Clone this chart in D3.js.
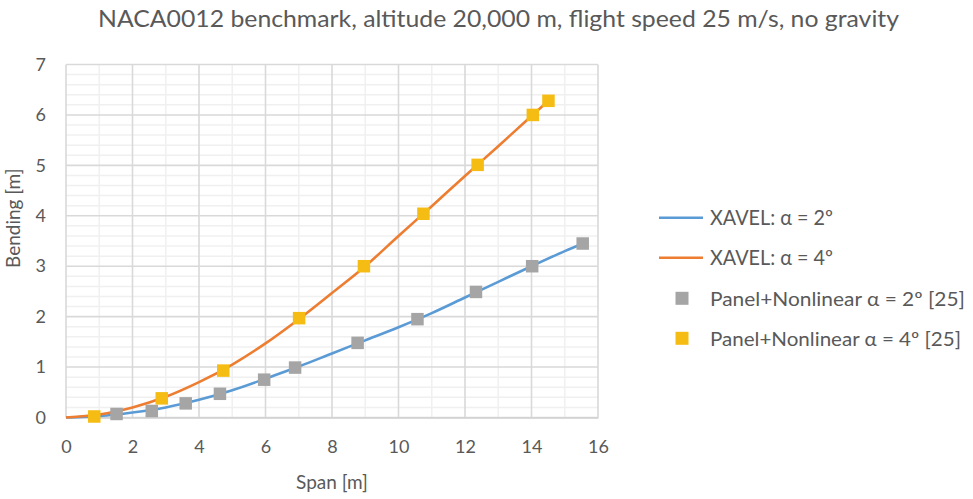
<!DOCTYPE html>
<html>
<head>
<meta charset="utf-8">
<script src="https://cdn.jsdelivr.net/npm/d3@7"></script>
<style>
  html, body { margin: 0; padding: 0; background: #ffffff; }
  svg { display: block; }
  text { font-family: Lato, "Open Sans", sans-serif; fill: #595959; }
</style>
</head>
<body>
<svg id="chart" width="973" height="499"></svg>
<script>
// XAVEL continuous bending curves (span [m] -> bending [m])
const xavelSpan2 = [0, 1, 2, 3, 4, 5, 6, 7, 8, 9, 10, 11, 12, 13, 14, 15, 15.55];
const xavelBend2 = [0, 0.03, 0.1, 0.2, 0.35, 0.54, 0.77, 1.01, 1.27, 1.53, 1.79, 2.07, 2.38, 2.69, 3.0, 3.3, 3.45];
const xavelSpan4 = [0, 1, 2, 3, 4, 5, 6, 7, 8, 9, 10, 11, 12, 13, 14, 14.5];
const xavelBend4 = [0, 0.06, 0.2, 0.41, 0.7, 1.05, 1.47, 1.95, 2.47, 3.0, 3.6, 4.19, 4.79, 5.38, 5.98, 6.27];

// Panel+Nonlinear reference points [25]
const panelSpan2 = [1.52, 2.58, 3.6, 4.63, 5.96, 6.89, 8.77, 10.57, 12.33, 14.02, 15.54];
const panelBend2 = [0.07, 0.13, 0.28, 0.47, 0.75, 0.99, 1.48, 1.95, 2.49, 3.0, 3.45];
const panelSpan4 = [0.85, 2.88, 4.73, 7.01, 8.96, 10.75, 12.38, 14.04, 14.51];
const panelBend4 = [0.02, 0.38, 0.93, 1.97, 3.0, 4.04, 5.01, 6.0, 6.28];

const spanTicks = [0, 2, 4, 6, 8, 10, 12, 14, 16];
const bendTicks = [0, 1, 2, 3, 4, 5, 6, 7];

const titleText = "NACA0012 benchmark, altitude 20,000 m, flight speed 25 m/s, no gravity";
const xTitle = "Span [m]";
const yTitle = "Bending [m]";
const legendLabels = [
  "XAVEL: \u03B1 = 2\u00BA",
  "XAVEL: \u03B1 = 4\u00BA",
  "Panel+Nonlinear  \u03B1 = 2\u00BA [25]",
  "Panel+Nonlinear \u03B1 = 4\u00BA [25]"
];

const colors = { blue: "#5b9bd5", orange: "#ed7d31", gray: "#a5a5a5", gold: "#f5bd14" };

const svg = d3.select("#chart");
const plot = { left: 66, right: 598, top: 64.5, bottom: 417.5 };

const x = d3.scaleLinear().domain([0, 16]).range([plot.left, plot.right]);
const y = d3.scaleLinear().domain([0, 7]).range([plot.bottom, plot.top]);

const zip = (a, b) => a.map((v, i) => [v, b[i]]);

// minor gridlines
const minorX = d3.range(1, 16, 2);
const minorY = d3.range(0, 7.0001, 0.2).filter(v => Math.abs(v - Math.round(v)) > 1e-6);
const grid = svg.append("g");
grid.selectAll(".mx").data(minorX).join("line")
  .attr("x1", d => x(d)).attr("x2", d => x(d))
  .attr("y1", plot.top).attr("y2", plot.bottom)
  .attr("stroke", "#f0f0f0").attr("stroke-width", 1.5);
grid.selectAll(".my").data(minorY).join("line")
  .attr("x1", plot.left).attr("x2", plot.right)
  .attr("y1", d => y(d)).attr("y2", d => y(d))
  .attr("stroke", "#f0f0f0").attr("stroke-width", 1.5);

// major gridlines
grid.selectAll(".gx").data(spanTicks).join("line")
  .attr("x1", d => x(d)).attr("x2", d => x(d))
  .attr("y1", plot.top).attr("y2", plot.bottom)
  .attr("stroke", "#d9d9d9").attr("stroke-width", 1.6);
grid.selectAll(".gy").data(bendTicks).join("line")
  .attr("x1", plot.left).attr("x2", plot.right)
  .attr("y1", d => y(d)).attr("y2", d => y(d))
  .attr("stroke", "#d9d9d9").attr("stroke-width", 1.6);

// axes (labels only)
const xAxis = svg.append("g")
  .attr("transform", `translate(0,${plot.bottom})`)
  .call(d3.axisBottom(x).tickValues(spanTicks).tickSize(0).tickPadding(23).tickFormat(d3.format("d")));
xAxis.select(".domain").attr("stroke", "#d0d0d0").attr("stroke-width", 1.6);
xAxis.selectAll("text").style("font-size", "18px").attr("fill", "#595959");

const yAxis = svg.append("g")
  .attr("transform", `translate(${plot.left},0)`)
  .call(d3.axisLeft(y).tickValues(bendTicks).tickSize(0).tickPadding(20).tickFormat(d3.format("d")));
yAxis.select(".domain").remove();
yAxis.selectAll("text").style("font-size", "18px").attr("fill", "#595959");

// data lines
const line = d3.line().x(d => x(d[0])).y(d => y(d[1])).curve(d3.curveCatmullRom.alpha(0.5));
svg.append("path").datum(zip(xavelSpan2, xavelBend2))
  .attr("d", line).attr("fill", "none").attr("stroke", colors.blue).attr("stroke-width", 2.6);
svg.append("path").datum(zip(xavelSpan4, xavelBend4))
  .attr("d", line).attr("fill", "none").attr("stroke", colors.orange).attr("stroke-width", 2.6);

// markers
const ms = 12.5;
svg.append("g").selectAll("rect").data(zip(panelSpan2, panelBend2)).join("rect")
  .attr("x", d => x(d[0]) - ms / 2).attr("y", d => y(d[1]) - ms / 2)
  .attr("width", ms).attr("height", ms).attr("fill", colors.gray);
svg.append("g").selectAll("rect").data(zip(panelSpan4, panelBend4)).join("rect")
  .attr("x", d => x(d[0]) - ms / 2).attr("y", d => y(d[1]) - ms / 2)
  .attr("width", ms).attr("height", ms).attr("fill", colors.gold);

// title
svg.append("text").attr("x", 98).attr("y", 27)
  .attr("textLength", 801).attr("lengthAdjust", "spacingAndGlyphs")
  .style("font-size", "24px").text(titleText);

// axis titles
svg.append("text").attr("x", (plot.left + plot.right) / 2).attr("y", 489)
  .attr("text-anchor", "middle").style("font-size", "19px").text(xTitle);
svg.append("text")
  .attr("transform", "translate(20,268) rotate(-90)")
  .attr("text-anchor", "start").style("font-size", "19px").text(yTitle);

// legend
const lg = svg.append("g");
const rowsY = [217.7, 257.7, 298.3, 338.3];
lg.append("line").attr("x1", 659).attr("x2", 703).attr("y1", rowsY[0]).attr("y2", rowsY[0])
  .attr("stroke", colors.blue).attr("stroke-width", 2.6);
lg.append("line").attr("x1", 659).attr("x2", 703).attr("y1", rowsY[1]).attr("y2", rowsY[1])
  .attr("stroke", colors.orange).attr("stroke-width", 2.6);
lg.append("rect").attr("x", 682 - 6.5).attr("y", rowsY[2] - 6.5).attr("width", 13).attr("height", 13).attr("fill", colors.gray);
lg.append("rect").attr("x", 682 - 6.5).attr("y", rowsY[3] - 6.5).attr("width", 13).attr("height", 13).attr("fill", colors.gold);
const legendWidths = [123, 123, 255, 251];
const legendSizes = [21, 21, 19.5, 19.5];
legendLabels.forEach((t, i) => {
  lg.append("text").attr("x", 710).attr("y", rowsY[i] + 7.5)
    .attr("textLength", legendWidths[i]).attr("lengthAdjust", "spacingAndGlyphs")
    .style("font-size", legendSizes[i] + "px").text(t);
});
</script>
</body>
</html>
